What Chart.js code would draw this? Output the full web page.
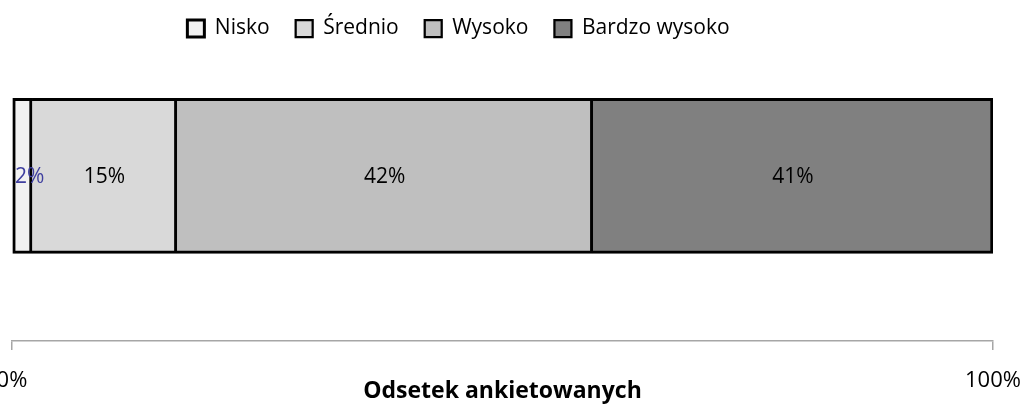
<!DOCTYPE html>
<html>
<head>
<meta charset="utf-8">
<script src="https://cdn.jsdelivr.net/npm/chart.js"></script>
<style>
  html, body { margin: 0; padding: 0; background: #ffffff; }
</style>
</head>
<body>
<canvas id="chart" width="1023" height="405"></canvas>
<script>
// Dane
var categories = ['Nisko', 'Średnio', 'Wysoko', 'Bardzo wysoko'];
var shares = [2.04, 14.76, 42.4, 40.8]; // % ankietowanych
var xTicks = [0, 100];
var axisTitle = 'Odsetek ankietowanych';

// Wygląd
var fillColors = ['#F2F2F2', '#D9D9D9', '#BFBFBF', '#808080'];
var labelColors = ['#3F3F9F', '#000000', '#000000', '#000000'];
var fontFamily = "'Open Sans', sans-serif";
var edge = 3;

var datasets = [];
for (var i = 0; i < categories.length; i++) {
    datasets.push({
        label: categories[i],
        data: [{ x: shares[i], y: 0 }],
        backgroundColor: fillColors[i],
        borderColor: '#000000',
        borderWidth: { top: edge, bottom: edge, right: edge, left: (i === 0 ? edge : 0) },
        borderSkipped: false,
        barThickness: 155
    });
}

// etykiety wartości w środku segmentów (nie wychodzą poza lewą krawędź)
var valueLabels = {
    id: 'valueLabels',
    afterDatasetsDraw: function(chart) {
        var ctx = chart.ctx;
        ctx.save();
        ctx.font = '21px ' + fontFamily;
        ctx.textAlign = 'center';
        ctx.textBaseline = 'middle';
        chart.data.datasets.forEach(function(ds, di) {
            var el = chart.getDatasetMeta(di).data[0];
            var p = el.getCenterPoint();
            var txt = Math.round(ds.data[0].x) + '%';
            var w = ctx.measureText(txt).width;
            var x = Math.max(p.x, chart.chartArea.left + 3 + w / 2);
            ctx.fillStyle = labelColors[di];
            ctx.fillText(txt, x, p.y + 1);
        });
        ctx.restore();
    }
};

// przesunięcie legendy jak w oryginale
var legendShift = {
    id: 'legendShift',
    afterLayout: function(chart) {
        var l = chart.legend;
        l.left -= 44; l.right -= 44;
        l.top -= 8; l.bottom -= 8;
    }
};

Chart.defaults.font.family = fontFamily;
Chart.defaults.color = '#000000';

new Chart(document.getElementById('chart'), {
    type: 'bar',
    data: { datasets: datasets },
    options: {
        responsive: false,
        animation: false,
        devicePixelRatio: 1,
        indexAxis: 'y',
        layout: { padding: { left: 12, right: 30, top: 0, bottom: 0 } },
        plugins: {
            legend: {
                position: 'top',
                labels: { boxWidth: 17, boxHeight: 17, padding: 26, font: { size: 21 }, color: '#000000' }
            },
            tooltip: { enabled: false }
        },
        scales: {
            x: {
                type: 'linear',
                stacked: true,
                min: 0, max: 100,
                afterBuildTicks: function(s) { s.ticks = xTicks.map(function(v) { return { value: v }; }); },
                afterFit: function(s) { s.height = 64; s.paddingLeft = 0; s.paddingRight = 0; },
                ticks: { padding: 18, font: { size: 22 }, color: '#000000', callback: function(v) { return v + '%'; } },
                grid: { drawOnChartArea: false, drawTicks: true, tickLength: 9, color: '#A6A6A6', lineWidth: 1.5 },
                border: { display: true, color: '#A6A6A6', width: 1.5 },
                title: { display: true, text: axisTitle, font: { size: 23, weight: 'bold' }, color: '#000000', padding: { top: 0, bottom: 0 } }
            },
            y: {
                type: 'linear',
                stacked: true,
                reverse: true,
                min: -0.402, max: 0.598,
                display: false
            }
        }
    },
    plugins: [valueLabels, legendShift]
});
</script>
</body>
</html>
